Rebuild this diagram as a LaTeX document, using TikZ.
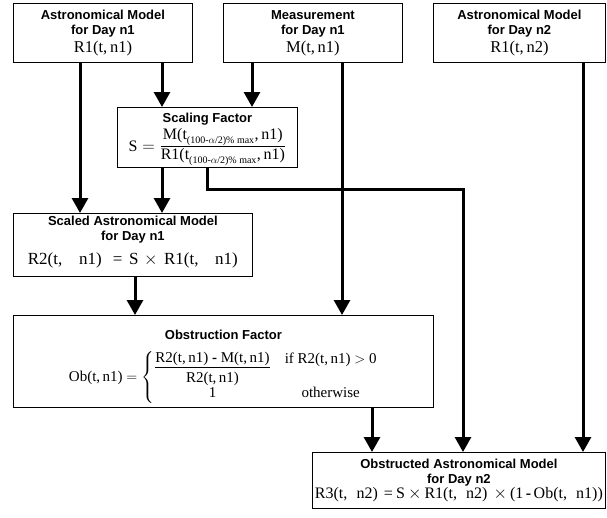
\documentclass[tikz,border=0pt]{standalone}
\usepackage{amsmath}
\usepackage{fontspec}
\setmainfont{Liberation Serif}
\setsansfont{Liberation Sans}
\usetikzlibrary{arrows.meta,positioning}

\newcommand{\boxtitle}[1]{{\sffamily\bfseries\fontsize{13}{14}\selectfont #1}}
\newcommand{\pct}{\mbox{\fontsize{10}{11}\selectfont(100-$\alpha$/2)\% max}}
\newcommand{\gap}[1]{\hspace{0pt plus #1fil}}

\begin{document}
\begin{tikzpicture}[
    x=1pt,y=-1pt,
    box/.style={draw,line width=0.8pt,inner sep=0pt,align=center,anchor=north west,
      font=\fontsize{15}{16}\selectfont},
    flow/.style={line width=3pt,-{Triangle[width=16pt,length=15pt]}}
]
\useasboundingbox (0,0) rectangle (607,517);

% Inputs
\node[box,minimum width=179pt,minimum height=59pt] (astro1) at (13,3)
  {\boxtitle{Astronomical Model}\\[-1pt]\boxtitle{for Day n1}\\[2pt]{\fontsize{16.5}{17}\selectfont R1(t,\,n1)}};
\node[box,minimum width=179pt,minimum height=59pt] (meas) at (223,3)
  {\boxtitle{Measurement}\\[-1pt]\boxtitle{for Day n1}\\[2pt]{\fontsize{16.5}{17}\selectfont M(t,\,n1)}};
\node[box,minimum width=172pt,minimum height=59pt] (astro2) at (433,3)
  {\boxtitle{Astronomical Model}\\[-1pt]\boxtitle{for Day n2}\\[2pt]{\fontsize{16.5}{17}\selectfont R1(t,\,n2)}};

% Scaling factor
\node[box,minimum width=180pt,minimum height=60pt] (scale) at (117,107)
  {\rule{0pt}{14pt}\boxtitle{Scaling Factor}\\[2pt]
   {\fontsize{16}{17}\selectfont
   $\mbox{S} = \frac{\mbox{M(t}_{\pct}\mbox{,\,n1)}}{\mbox{\rule{0pt}{12pt}R1(t}_{\pct}\mbox{,\,n1)}}$}};

% Scaled model
\node[box,minimum width=239pt,minimum height=63pt] (scaled) at (13,213)
  {\boxtitle{Scaled Astronomical Model}\\[-1pt]\boxtitle{for Day n1}\\[8pt]
   {\fontsize{17}{18}\selectfont\hbox to 210pt{R2(t,\gap{3}n1)\gap{2}=\gap{1.2}S\gap{1}$\times$\gap{1.2}R1(t,\gap{3}n1)}}%
   \rule[-9pt]{0pt}{1pt}};

% Obstruction factor
\node[box,minimum width=420pt,minimum height=92pt] (obst) at (13,315)
  {\rule{0pt}{20pt}\boxtitle{Obstruction Factor}\\[11pt]
   Ob(t,\,n1) $= \left\{\begin{array}{@{}c@{\hspace{14pt}}c@{}}
     \frac{\mbox{R2(t,\,n1) \textbf{-} M(t,\,n1)}}{\mbox{\rule{0pt}{15pt}R2(t,\,n1)}} & \raisebox{7pt}{if R2(t,\,n1) $>$ 0}\\[11pt]
     \mbox{1} & \mbox{otherwise}
   \end{array}\right.$};

% Result
\node[box,minimum width=293pt,minimum height=56pt] (result) at (312,452)
  {\boxtitle{Obstructed Astronomical Model}\\[-1.5pt]\boxtitle{for Day n2}\\[-1pt]
   {\fontsize{16}{17}\selectfont\hbox to 288pt{R3(t,\gap{3}n2)\gap{2}=\gap{1}S\gap{1}$\times$\gap{1}R1(t,\gap{3}n2)\gap{2}$\times$\gap{1}(1\gap{0.8}\textbf{-}\gap{0.8}Ob(t,\gap{3}n1))}}};

% Arrow columns
\coordinate (xa) at (80,0);
\coordinate (xb) at (162,0);
\coordinate (xc) at (252,0);
\coordinate (xd) at (342,0);
\coordinate (xe) at (583,0);
\coordinate (xf) at (207,0);
\coordinate (xg) at (463,0);
\coordinate (xh) at (135,0);
\coordinate (xi) at (372,0);
\coordinate (turn) at (0,189);

% Connectors
\draw[flow] (astro1.south -| xa) -- (scaled.north -| xa);
\draw[flow] (astro1.south -| xb) -- (scale.north -| xb);
\draw[flow] (meas.south -| xc) -- (scale.north -| xc);
\draw[flow] (meas.south -| xd) -- (obst.north -| xd);
\draw[flow] (astro2.south -| xe) -- (result.north -| xe);
\draw[flow] (scale.south -| xb) -- (scaled.north -| xb);
\draw[flow] (scale.south -| xf) -- (xf |- turn) -- (xg |- turn) -- (result.north -| xg);
\draw[flow] (scaled.south -| xh) -- (obst.north -| xh);
\draw[flow] (obst.south -| xi) -- (result.north -| xi);

\end{tikzpicture}
\end{document}
